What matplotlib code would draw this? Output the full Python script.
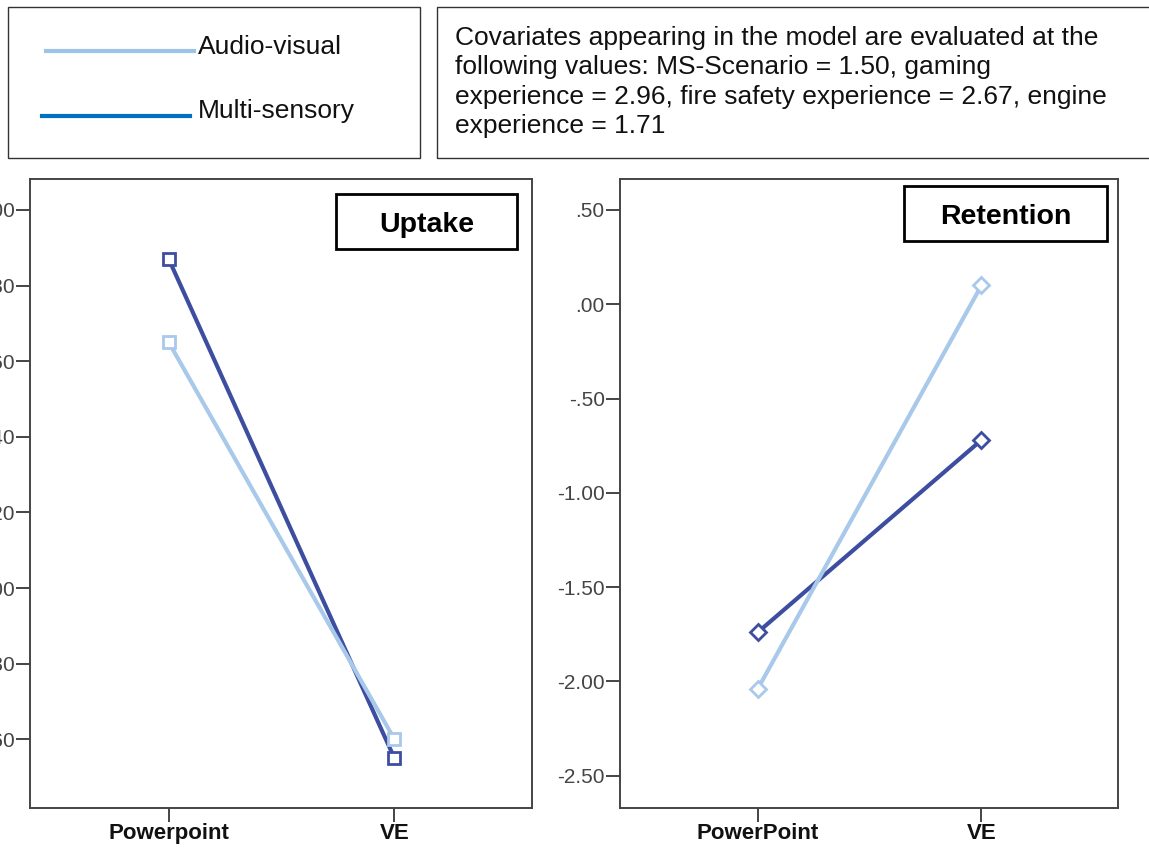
import matplotlib
matplotlib.use("Agg")
import matplotlib.pyplot as plt
from matplotlib.patches import Rectangle
from matplotlib.lines import Line2D

plt.rcParams['font.family'] = ['Liberation Sans', 'DejaVu Sans']

# data
uptake_groups = ["Powerpoint", "VE"]
uptake_av = [2.65, 1.60]
uptake_ms = [2.87, 1.55]
uptake_ticks = [3.00, 2.80, 2.60, 2.40, 2.20, 2.00, 1.80, 1.60]

retention_groups = ["PowerPoint", "VE"]
retention_av = [-2.04, 0.10]
retention_ms = [-1.74, -0.72]
retention_ticks = [0.50, 0.00, -0.50, -1.00, -1.50, -2.00, -2.50]

series_names = ["Audio-visual", "Multi-sensory"]
covariate_note = ("Covariates appearing in the model are evaluated at the\n"
                  "following values: MS-Scenario = 1.50, gaming\n"
                  "experience = 2.96, fire safety experience = 2.67, engine\n"
                  "experience = 1.71")

W, H = 1149, 848
fig = plt.figure(figsize=(W / 100, H / 100), dpi=100)

def box(x0, y0, x1, y1):
    # pixel box -> figure fraction rect (left, bottom, width, height)
    return [x0 / W, 1 - y1 / H, (x1 - x0) / W, (y1 - y0) / H]

av_col = "#a9c9ea"
ms_col = "#3d4ea0"
spine_col = "#444444"

def fmt(v):
    s = "%.2f" % v
    if s.startswith("0."):
        s = s[1:]
    elif s.startswith("-0."):
        s = "-" + s[2:]
    return s

def draw_panel(rect, groups, av, ms, ticks, ylim, marker, title, title_box):
    ax = fig.add_axes(rect)
    x = list(range(len(groups)))
    ax.plot(x, ms, color=ms_col, lw=3.0, marker=marker, ms=8, mfc="white",
            mec=ms_col, mew=2, zorder=3)
    ax.plot(x, av, color=av_col, lw=3.0, marker=marker, ms=8, mfc="white",
            mec=av_col, mew=2, zorder=4)
    ax.set_xlim(-0.615, 1.61)
    ax.set_ylim(*ylim)
    ax.set_xticks(x)
    ax.set_xticklabels(groups, fontsize=16, fontweight="bold", color="#111111")
    ax.set_yticks(ticks)
    ax.set_yticklabels([fmt(t) for t in ticks], fontsize=15, color="#444444")
    ax.tick_params(axis="both", direction="out", length=10, width=1.4,
                   color=spine_col, pad=1)
    for s in ax.spines.values():
        s.set_color(spine_col)
        s.set_linewidth(1.4)
    # boxed panel title
    bx0, by0, bx1, by1 = title_box
    fig.add_artist(Rectangle((bx0 / W, 1 - by1 / H), (bx1 - bx0) / W, (by1 - by0) / H,
                             transform=fig.transFigure, fill=True, fc="white",
                             ec="black", lw=2, zorder=5))
    fig.text((bx0 + bx1) / 2 / W, 1 - ((by0 + by1) / 2 + 10) / H, title,
             fontsize=20.5, fontweight="bold", ha="center", va="baseline", zorder=6)
    return ax

draw_panel(box(30, 179, 532, 808), uptake_groups, uptake_av, uptake_ms,
           uptake_ticks, (1.418, 3.082), "s", "Uptake", (336, 194, 517, 249))
draw_panel(box(620, 179, 1118, 808), retention_groups, retention_av, retention_ms,
           retention_ticks, (-2.671, 0.664), "D", "Retention", (904, 186, 1107, 241))

# legend box with its keys
fig.add_artist(Rectangle((8 / W, 1 - 158 / H), 412 / W, 151 / H,
                         transform=fig.transFigure, fill=False, ec="#333333", lw=1))
key_cols = ["#9dc3e6", "#0070c0"]
key_x = [(46, 194), (42, 190)]
key_y = [51, 116]
text_y = [47, 111]
for name, c, (xa, xb), ly, ty in zip(series_names, key_cols, key_x, key_y, text_y):
    fig.add_artist(Line2D([xa / W, xb / W], [1 - ly / H, 1 - ly / H],
                          transform=fig.transFigure, color=c, lw=3))
    fig.text(198 / W, 1 - ty / H, name, fontsize=19, ha="left", va="center",
             color="#111111")

# covariates box
fig.add_artist(Rectangle((437 / W, 1 - 158 / H), 720 / W, 151 / H,
                         transform=fig.transFigure, fill=False, ec="#333333", lw=1))
fig.text(455 / W, 1 - 82 / H, covariate_note, fontsize=19, ha="left",
         va="center", linespacing=1.29, color="#111111")

fig.savefig("out.png", dpi=100)
